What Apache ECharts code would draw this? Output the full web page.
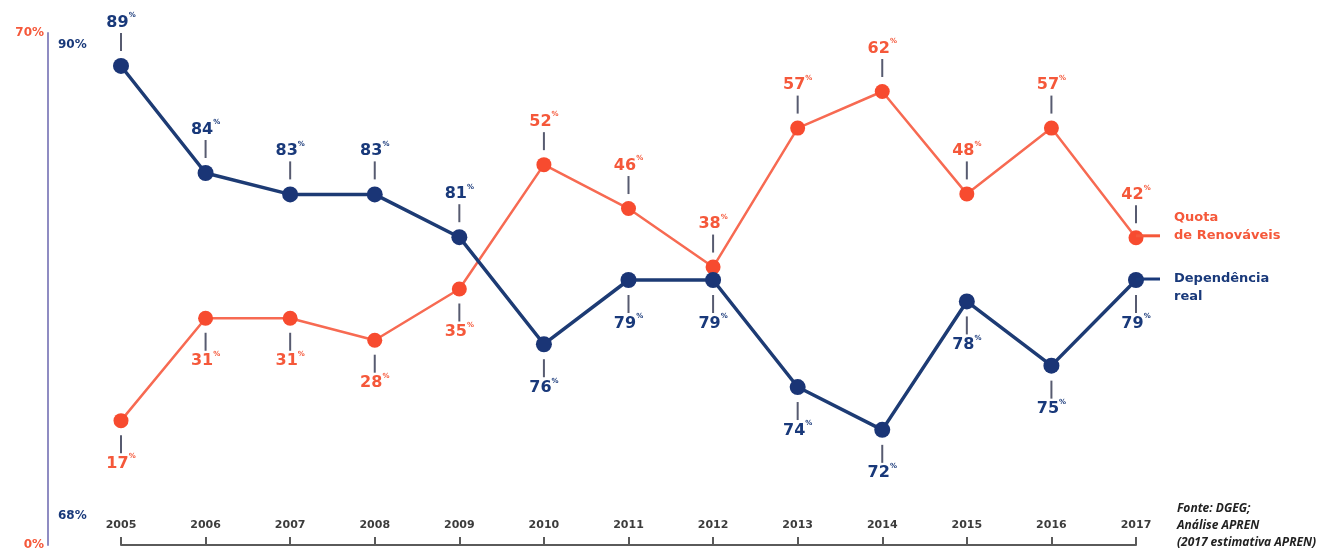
<!DOCTYPE html>
<html>
<head>
<meta charset="utf-8">
<script src="https://cdn.jsdelivr.net/npm/echarts@6/dist/echarts.min.js"></script>
<style>
  html, body { margin: 0; padding: 0; background: #ffffff; }
  #chart { width: 1331px; height: 551px; }
</style>
</head>
<body>
<div id="chart"></div>
<script>
// Years on the horizontal axis
const years = ['2005', '2006', '2007', '2008', '2009', '2010', '2011', '2012', '2013', '2014', '2015', '2016', '2017'];
// Quota de Renováveis (%)
const renewShare = [17, 31, 31, 28, 35, 52, 46, 38, 57, 62, 48, 57, 42];
// Dependência energética real (%)
const dependence = [89, 84, 83, 83, 81, 76, 79, 79, 74, 72, 78, 75, 79];
// Labelled values on each vertical axis
const renewAxisLabels = [0, 70];
const dependenceAxisLabels = [68, 90];
// Axis ranges
const renewRange = [0, 70];
const dependenceRange = [66.62, 90.54];
const sourceLines = ['Fonte: DGEG;', 'Análise APREN', '(2017 estimativa APREN)'];

const ORANGE = '#f5583a';
const ORANGE_LINE = '#f76a52';
const NAVY = '#19397a';
const NAVY_LINE = '#1d3b74';
const STEM = '#575b70';
const FONT = 'DejaVu Sans';

const chart = echarts.init(document.getElementById('chart'), null, { renderer: 'canvas' });

// Relative height of a value within its own axis, used to put each label
// on the side facing away from the other line.
const frac = (v, r) => (v - r[0]) / (r[1] - r[0]);
const renewBelow = renewShare.map((v, i) => frac(v, renewRange) < frac(dependence[i], dependenceRange));

function valueLabel(color, below) {
  return {
    show: true,
    position: below ? 'bottom' : 'top',
    distance: 7,
    formatter: p => below ? `{bar|}\n{v|${p.value}}{p|%}` : `{v|${p.value}}{p|%}\n{bar|}`,
    rich: {
      v: { fontFamily: FONT, fontSize: 16, fontWeight: 'bold', color, lineHeight: 21 },
      p: { fontFamily: FONT, fontSize: 7, fontWeight: 'bold', color, lineHeight: 21, verticalAlign: 'top', padding: [0, 0, 6, 0] },
      bar: { width: 2, height: 18, lineHeight: 18, backgroundColor: STEM }
    }
  };
}

const renewData = renewShare.map((v, i) => ({ value: v, label: valueLabel(ORANGE, renewBelow[i]) }));
const dependenceData = dependence.map((v, i) => ({ value: v, label: valueLabel(NAVY, !renewBelow[i]) }));

const endRich = (color) => ({
  t: { fontFamily: FONT, fontSize: 13, fontWeight: 'bold', color, lineHeight: 18 },
  gap: { width: 38, height: 3 },
  stub: { width: 24, height: 3, backgroundColor: color },
  sp: { width: 14, height: 3 }
});

chart.setOption({
  animation: false,
  backgroundColor: '#ffffff',
  grid: { left: 121, right: 195, top: 33, bottom: 6, containLabel: false, outerBoundsMode: 'none' },
  title: {
    text: sourceLines.join('\n'),
    left: 1172,
    top: 495,
    textStyle: {
      fontFamily: 'Open Sans', fontStyle: 'italic', fontWeight: 'bold',
      fontSize: 12, lineHeight: 17, color: '#222'
    }
  },
  xAxis: {
    type: 'category',
    data: years,
    boundaryGap: false,
    axisLine: { show: true, lineStyle: { color: '#5a5a5a', width: 2 } },
    axisTick: { show: true, inside: true, length: 8, alignWithLabel: true, lineStyle: { color: '#5a5a5a', width: 2 } },
    axisLabel: { inside: true, margin: 14, fontFamily: FONT, fontSize: 11, fontWeight: 'bold', color: '#3c3c3c' },
    splitLine: { show: false }
  },
  yAxis: [
    {
      type: 'value',
      position: 'left',
      offset: 73,
      min: renewRange[0],
      max: renewRange[1],
      axisLine: { show: true, lineStyle: { color: '#8f8cc2', width: 2 } },
      axisTick: { show: false },
      splitLine: { show: false },
      axisLabel: {
        customValues: renewAxisLabels,
        formatter: '{value}%',
        margin: 4,
        fontFamily: FONT, fontSize: 12, fontWeight: 'bold', color: ORANGE
      }
    },
    {
      type: 'value',
      position: 'left',
      offset: 73,
      min: dependenceRange[0],
      max: dependenceRange[1],
      axisLine: { show: false },
      axisTick: { show: false },
      splitLine: { show: false },
      axisLabel: {
        customValues: dependenceAxisLabels,
        inside: true,
        formatter: '{value}%',
        margin: 10,
        fontFamily: FONT, fontSize: 12, fontWeight: 'bold', color: NAVY
      }
    }
  ],
  series: [
    {
      name: 'Quota de Renováveis',
      type: 'line',
      yAxisIndex: 0,
      data: renewData,
      symbol: 'circle',
      symbolSize: 15,
      itemStyle: { color: '#f74b2f' },
      lineStyle: { color: ORANGE_LINE, width: 2.5 },
      z: 3,
      endLabel: {
        show: true,
        distance: 0,
        offset: [0, -11],
        formatter: '{gap|}{t|Quota}\n{stub|}{sp|}{t|de Renováveis}',
        rich: endRich(ORANGE)
      }
    },
    {
      name: 'Dependência real',
      type: 'line',
      yAxisIndex: 1,
      data: dependenceData,
      symbol: 'circle',
      symbolSize: 16,
      itemStyle: { color: '#1a3576' },
      lineStyle: { color: NAVY_LINE, width: 3.5 },
      z: 4,
      endLabel: {
        show: true,
        distance: 0,
        offset: [0, 8],
        formatter: '{stub|}{sp|}{t|Dependência}\n{gap|}{t|real}',
        rich: endRich(NAVY)
      }
    }
  ]
});
</script>
</body>
</html>
